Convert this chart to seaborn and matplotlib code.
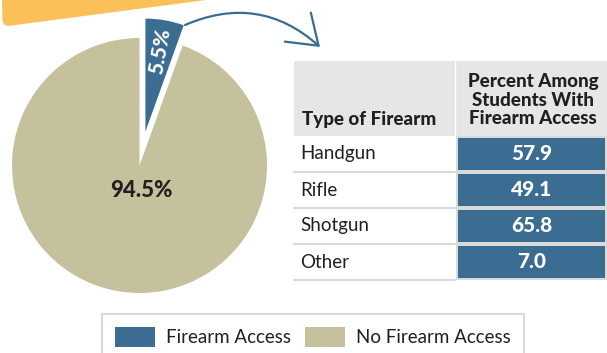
import pandas as pd
import seaborn as sns
import matplotlib.pyplot as plt
from matplotlib.colors import ListedColormap
from matplotlib.patches import Polygon, Rectangle, FancyArrowPatch

# --- dados ---
access_labels = ["Firearm Access", "No Firearm Access"]
access_pct = [5.5, 94.5]
firearm_types = ["Handgun", "Rifle", "Shotgun", "Other"]
firearm_pct = [57.9, 49.1, 65.8, 7.0]
col_headers = ["Type of Firearm", "Percent Among\nStudents With\nFirearm Access"]

BLUE = "#3a6d91"
TAN = "#c4c19c"
ORANGE = "#fcc05a"
HEAD_GRAY = "#e6e6e8"
LINE_GRAY = "#d9d9d9"
TXT = "#231f20"

sns.set_theme(style="white")
plt.rcParams["font.family"] = ["Lato", "DejaVu Sans"]

W, H = 607, 353
fig = plt.figure(figsize=(W / 100, H / 100), dpi=100)
ax = fig.add_axes([0, 0, 1, 1])


def py(y):
    # pixel (de cima) -> coordenada do eixo
    return H - y


# --- faixa laranja no topo ---
ax.add_patch(Polygon([(2, py(0)), (206, py(0)), (8, py(26)), (4, py(24.5)), (2.5, py(21))],
                     closed=True, color=ORANGE, lw=0))

# --- pizza ---
wedges, _ = ax.pie(access_pct, colors=[BLUE, TAN], startangle=90, counterclock=False,
                   radius=127.5, center=(139.5, py(165.5)), explode=[34.4, 0],
                   wedgeprops=dict(linewidth=0))
wedges[0].set_radius(113)

ax.text(141.5, py(190.5), f"{access_pct[1]:.1f}%", ha="center", va="center",
        fontsize=16, fontweight="black", color=TXT)
ax.text(159.5, py(51), f"{access_pct[0]:.1f}%", ha="center", va="center",
        fontsize=15, fontweight="black", color="white", rotation=80)

# --- seta ---
ax.add_patch(FancyArrowPatch((185, py(25)), (320, py(47)), connectionstyle="arc3,rad=-0.32",
                             arrowstyle="->,head_length=20,head_width=14", mutation_scale=1,
                             lw=1.6, color=BLUE, shrinkA=0, shrinkB=0))

# --- tabela ---
ax.add_patch(Rectangle((294, py(136)), W - 294, 75, color=HEAD_GRAY, lw=0))
ax.plot([455, 455], [py(61), py(136)], color="white", lw=1)
ax.text(302, py(120), col_headers[0], ha="left", va="center",
        fontsize=13.5, fontweight="black", color=TXT)
ax.text(533, py(100), col_headers[1], ha="center", va="center", linespacing=1.1,
        fontsize=13.5, fontweight="black", color=TXT)

for i, name in enumerate(firearm_types):
    yc = 154 + 36 * i
    ax.text(300, py(yc), name, ha="left", va="center", fontsize=13.5, color=TXT)
    ax.plot([294, 455], [py(172 + 36 * i)] * 2, color=LINE_GRAY, lw=1.5)

hax = fig.add_axes([456 / W, (H - 280) / H, (W - 456) / W, 144 / H])
df = pd.DataFrame({"pct": firearm_pct}, index=firearm_types)
sns.heatmap(df, ax=hax, cmap=ListedColormap([BLUE]), cbar=False, annot=True, fmt=".1f",
            annot_kws=dict(color="white", fontweight="black", fontsize=15),
            linewidths=1.5, linecolor=LINE_GRAY, xticklabels=False, yticklabels=False)
hax.set_xlabel("")
hax.set_ylabel("")

# --- legenda ---
leg = ax.legend(wedges, access_labels, loc="center", bbox_to_anchor=(313 / W, py(337) / H),
                bbox_transform=fig.transFigure, ncol=2, frameon=True, fancybox=False,
                edgecolor=LINE_GRAY, framealpha=1, fontsize=13.5, handlelength=2.13,
                handleheight=1.28, handletextpad=0.59, columnspacing=0.75, borderpad=0.69)
leg.get_frame().set_linewidth(1.5)
for t in leg.get_texts():
    t.set_color(TXT)

ax.set_xlim(0, W)
ax.set_ylim(0, H)
ax.set_aspect("auto")
ax.axis("off")

fig.savefig("out.png", dpi=100)
